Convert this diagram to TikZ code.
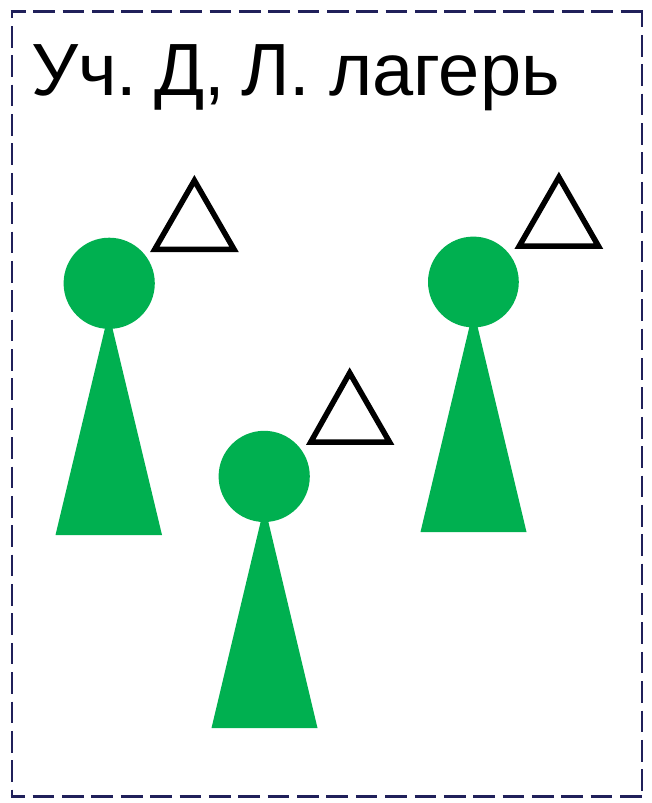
\documentclass[tikz,border=0pt]{standalone}
\usepackage{fontspec}
\setmainfont{Liberation Sans}
\definecolor{grn}{RGB}{0,176,80}
\definecolor{framec}{RGB}{32,32,90}
\tikzset{
  body/.style={fill=grn,draw=none},
  headc/.style={fill=grn,draw=none},
  tri/.style={draw=black,line width=5.5pt,fill=white,miter limit=10,line join=miter},
  side/.style={framec,line width=2.4pt,dash pattern=on 21.7pt off 7.67pt},
}
\begin{document}
\begin{tikzpicture}[x=1pt,y=-1pt]
\useasboundingbox (0,0) rectangle (651,803);
\fill[white] (0,0) rectangle (651,803);
\draw[side,dash phase=6.67pt] (10.6,11.3) -- (643.1,11.3);
\draw[side,dash phase=4.77pt] (642,10.4) -- (642,797.6);
\draw[side,dash phase=7.27pt] (10.6,796.6) -- (643.1,796.6);
\draw[side,dash phase=13.77pt] (11.7,10.4) -- (11.7,797.6);
\node[anchor=base west,inner sep=0pt,font=\fontsize{74}{74}\selectfont] (title) at (31,95) {Уч.\kern-10pt{} Д,\kern-4.5pt{} Л.\kern-2pt{} лагерь};
% figure 1
\fill[body] (108.7,312.6) -- (162,535) -- (55.5,535) -- cycle;
\fill[headc] (109.2,283.3) circle (45.6);
\draw[tri] (194.4,180.5) -- (234,249.3) -- (154.8,249.3) -- cycle;
% figure 2
\fill[body] (473.5,309.6) -- (526.5,532) -- (420.5,532) -- cycle;
\fill[headc] (473.4,282) circle (45.4);
\draw[tri] (558.9,177.2) -- (598.5,246.2) -- (519.2,246.2) -- cycle;
% figure 3
\fill[body] (264.5,505.6) -- (317.5,728) -- (211.5,728) -- cycle;
\fill[headc] (264.2,476.4) circle (45.6);
\draw[tri] (349.7,372.9) -- (389.5,442) -- (310.8,442) -- cycle;
\end{tikzpicture}
\end{document}
